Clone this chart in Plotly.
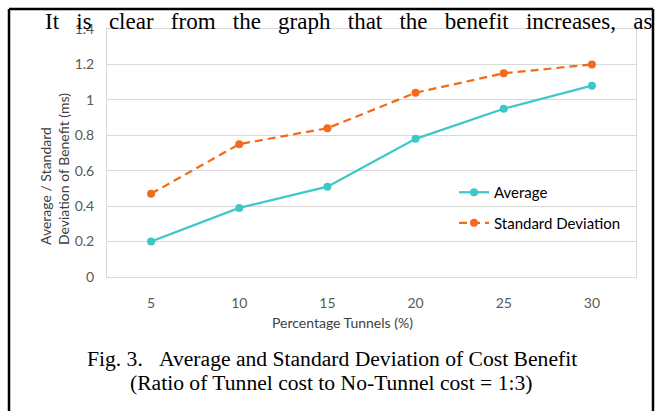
import plotly.graph_objects as go

# data
tunnels = [5, 10, 15, 20, 25, 30]
average = [0.20, 0.39, 0.51, 0.78, 0.95, 1.08]
std_dev = [0.47, 0.75, 0.84, 1.04, 1.15, 1.20]
y_ticks = [0, 0.2, 0.4, 0.6, 0.8, 1, 1.2, 1.4]

W, H = 657, 411
L, R, T, B = 107, 21, 29, 134
PW, PH = W - L - R, H - T - B


def px(x):
    return (x - L) / PW


def py(y):
    return 1 - (y - T) / PH


tick_font = dict(family="Lato", size=14, color="#595959")

fig = go.Figure()
fig.add_trace(go.Scatter(
    x=tunnels, y=average, name="Average", mode="lines+markers",
    line=dict(color="#3CC8C8", width=2.25),
    marker=dict(size=8, color="#3CC8C8"),
    legendgroup="a"
))
fig.add_trace(go.Scatter(
    x=tunnels, y=std_dev, name="Standard Deviation", mode="lines+markers",
    line=dict(color="#F26B1D", width=2.25, dash="8px,5px"),
    marker=dict(size=8, color="#F26B1D"),
    legendgroup="b"
))

fig.update_xaxes(
    range=[2.5, 32.5], tickvals=tunnels, ticks="", showgrid=False,
    showline=True, mirror=True, linecolor="#D9D9D9", linewidth=1,
    zeroline=False, tickfont=tick_font, ticklabelstandoff=13
)
fig.update_yaxes(
    range=[0, 1.4], tickvals=y_ticks, ticktext=[f"{v:g}" for v in y_ticks],
    ticks="", showgrid=True, gridcolor="#D9D9D9", gridwidth=1,
    showline=True, mirror=True, linecolor="#D9D9D9", linewidth=1,
    zeroline=False, tickfont=tick_font, ticklabelstandoff=9
)

sp = "&nbsp;" * 2
words = "It is clear from the graph that the benefit increases, as".split(" ")
fig.add_annotation(
    xref="paper", yref="paper", x=px(43), y=py(21), xanchor="left", yanchor="middle",
    text=(" " + sp).join(words), showarrow=False,
    font=dict(family="Liberation Serif", size=23, color="black")
)
caption_font = dict(family="Liberation Serif", size=21.6, color="black")
fig.add_annotation(
    xref="paper", yref="paper", x=px(332), y=py(359), xanchor="center", yanchor="middle",
    text="Fig. 3." + "&nbsp;" * 3 + "Average and Standard Deviation of Cost Benefit",
    showarrow=False, font=caption_font
)
fig.add_annotation(
    xref="paper", yref="paper", x=px(331), y=py(383), xanchor="center", yanchor="middle",
    text="(Ratio of Tunnel cost to No-Tunnel cost = 1:3)",
    showarrow=False, font=caption_font
)

# axis titles
title_font = dict(family="Lato", size=14, color="#404040")
fig.add_annotation(
    xref="paper", yref="paper", x=px(342), y=py(322), xanchor="center", yanchor="middle",
    text="Percentage Tunnels (%)", showarrow=False, font=title_font
)
fig.add_annotation(
    xref="paper", yref="paper", x=px(54), y=py(169), xanchor="center", yanchor="middle",
    text="Average / Standard<br>Deviation of Benefit (ms)", textangle=-90, align="left",
    showarrow=False, font=title_font
)

# black frame of the figure box
border = dict(color="black", width=2.5)
fig.add_shape(type="line", xref="paper", yref="paper",
              x0=px(9), y0=py(430), x1=px(9), y1=py(9), line=border)
fig.add_shape(type="line", xref="paper", yref="paper",
              x0=px(9), y0=py(9), x1=px(653), y1=py(9), line=border)
fig.add_shape(type="line", xref="paper", yref="paper",
              x0=px(653), y0=py(9), x1=px(653), y1=py(430), line=border)

fig.update_layout(
    width=W, height=H,
    margin=dict(l=L, r=R, t=T, b=B),
    paper_bgcolor="white", plot_bgcolor="white",
    legend=dict(
        x=px(454), y=py(176), xanchor="left", yanchor="top",
        font=dict(family="Lato", size=15, color="black"),
        bgcolor="rgba(0,0,0,0)", traceorder="grouped", tracegroupgap=8
    )
)

# drop the default page margin so the figure sits at the window's corner
fig.write_html(
    "out.html",
    config={"displayModeBar": False},
    post_script="document.body.style.margin='0';document.body.style.overflow='hidden';"
)
